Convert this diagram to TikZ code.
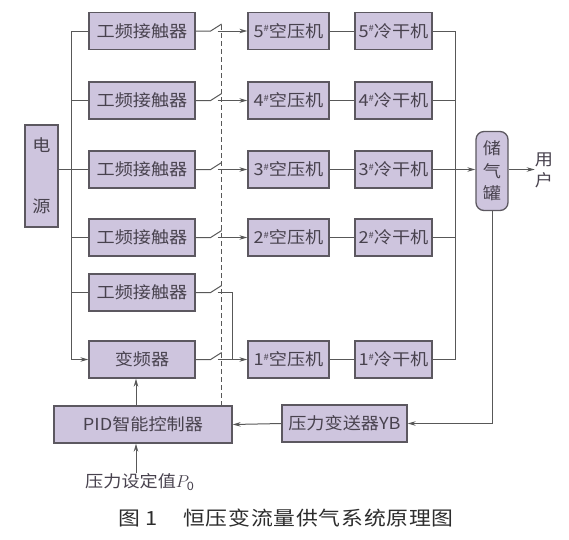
\documentclass[tikz,border=0pt]{standalone}
\usepackage{fontspec}
\setmainfont{Noto Sans CJK SC}[FakeStretch=1.1]
\newfontfamily\capfont{Noto Sans CJK SC}[FakeStretch=1.12,LetterSpace=4]
\usetikzlibrary{arrows.meta}
\definecolor{boxfill}{RGB}{206,197,222}
\definecolor{boxline}{RGB}{92,88,96}
\definecolor{wirec}{RGB}{88,88,88}
\definecolor{txt}{RGB}{72,66,78}
\definecolor{captxt}{RGB}{45,45,45}
\newcommand{\nsup}{\raisebox{5.5pt}{\fontsize{8.5}{9}\selectfont\#}}
\begin{document}
\begin{tikzpicture}[x=1pt,y=-1pt,
  box/.style={draw=boxline,line width=1.3pt,fill=boxfill,inner sep=0pt,
    font=\fontsize{16.5}{18}\selectfont,text=txt},
  kbox/.style={box,minimum width=106pt,minimum height=37pt},
  cbox/.style={box,minimum width=81pt,minimum height=37pt},
  dbox/.style={box,minimum width=77pt,minimum height=37pt},
  wire/.style={draw=wirec,line width=1pt},
  arr/.style={wire,-{Stealth[length=8pt,width=4.5pt]}},
  plain/.style={inner sep=0pt,font=\fontsize{16.5}{18}\selectfont,text=txt}]
\useasboundingbox[fill=white] (0,0) rectangle (569,539);

% power
\node[box,minimum width=33pt,minimum height=102pt,align=center,
  font=\fontsize{16.5}{18}\selectfont] (pw) at (41.5,176) {电\\[43pt]源};

% contactors and inverter
\foreach \n/\y in {5/31,4/100.5,3/169.5,2/237.5,1/292.5}
  \node[kbox] (k\n) at (142,\y) {工频接触器};
\node[kbox] (vf) at (142,359.5) {变频器};

% compressors and dryers
\foreach \n/\y in {5/31,4/100.5,3/169.5,2/237.5,1/359.5}{
  \node[cbox] (c\n) at (288.5,\y) {\n\nsup 空压机};
  \node[dbox] (d\n) at (393.5,\y) {\n\nsup 冷干机};
}

% tank and user
\node[box,rounded corners=8pt,minimum width=32pt,minimum height=79pt,align=center,
  font=\fontsize{16.5}{22.5}\selectfont] (tank) at (492,171) {储\\气\\罐};
\node[plain,align=center,font=\fontsize{16.5}{21}\selectfont] (user) at (544,170) {用\\户};

% controllers
\node[box,minimum width=178pt,minimum height=37pt] (pid) at (143,424.5) {PID智能控制器};
\node[box,minimum width=125pt,minimum height=37pt] (yb) at (344.5,423.5) {压力变送器YB};
\node[plain] (p0) at (139.5,482) {压力设定值$P_{\mathrm{0}}$};

% caption
\node[anchor=west,inner sep=0pt,text=captxt,font=\capfont\fontsize{19.5}{20}\selectfont]
  (cap) at (118,518) {图\hspace{5pt}1\hspace{26pt}恒压变流量供气系统原理图};

% supply bus
\draw[arr] (k5.west) -- ++(-17,0) |- (vf.west);
\foreach \n in {4,3,2,1}
  \draw[wire] (k\n.west) -- ++(-17,0);
\draw[wire] (pw.east |- k3.west) -- ++(14,0);

% switches
\foreach \n in {5,4,3,2,1}
  \draw[wire] (k\n.east) -- ++(15,0) -- ++(11,-7);
\draw[wire] (vf.east) -- ++(15,0) -- ++(11,-7);
\foreach \n in {5,4,3,2}
  \draw[arr] ([xshift=22pt]k\n.east) -- (c\n.west);
\draw[arr] ([xshift=22pt]vf.east) -- (c1.west);
\coordinate (j1) at (232,359.5);
\draw[wire] ([xshift=22pt]k1.east) -| (j1);

% dashed control line
\coordinate (dtop) at (221,25);
\draw[wire,dash pattern=on 5pt off 3pt] (dtop) -- (dtop |- pid.north);

% compressors to dryers
\foreach \n in {5,4,3,2,1}
  \draw[wire] (c\n.east) -- (d\n.west);

% collector
\coordinate (ct) at (455,31);
\draw[wire] (d5.east) -- (ct) -- (ct |- d1.east) -- (d1.east);
\foreach \n in {4,3,2}
  \draw[wire] (d\n.east) -- (d\n.east -| ct);
\draw[arr] (ct |- d3.east) -- (tank.west |- d3.east);
\draw[arr] (tank.east |- d3.east) -- (user.west |- d3.east);

% feedback
\draw[arr] (tank.south) |- (yb.east);
\draw[arr] (yb.west) -- (pid.east);
\draw[arr] ([xshift=-7pt]pid.north) -- ([xshift=-7pt]pid.north |- vf.south);
\draw[arr] ([xshift=-7pt]pid.south |- p0.north) -- ([xshift=-7pt]pid.south);
\end{tikzpicture}
\end{document}
